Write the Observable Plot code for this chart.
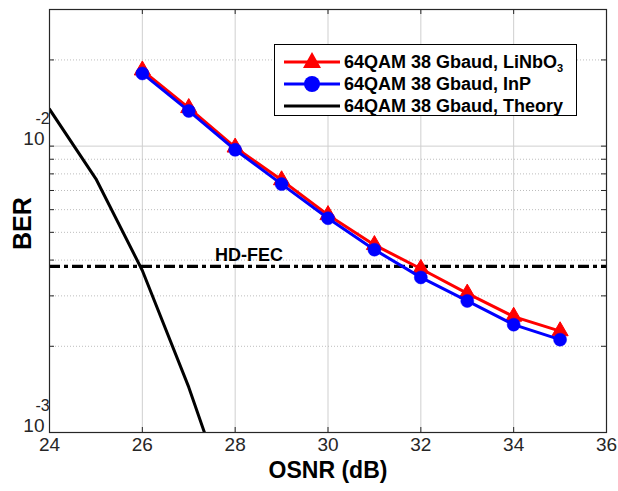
<!DOCTYPE html>
<html>
<head>
<meta charset="utf-8">
<script src="https://cdn.jsdelivr.net/npm/d3@7"></script>
<script src="https://cdn.jsdelivr.net/npm/@observablehq/plot@0.6"></script>
<style>
  body { margin: 0; background: #fff; font-family: Arial, "Liberation Sans", sans-serif; }
  #wrap { position: relative; width: 618px; height: 491px; }
  #legend { position: absolute; left: 274px; top: 44px; width: 301px; height: 70px;
    border: 1.2px solid #000; background: #fff; font-weight: bold; font-size: 18px; color: #000; }
  .row { position: absolute; left: 0; height: 22px; display: flex; align-items: center; white-space: nowrap; }
  .row svg { margin-left: 9px; margin-right: 4px; }
  sub { font-size: 11px; vertical-align: -4px; line-height: 0; }
</style>
</head>
<body>
<div id="wrap"></div>
<script>
const xTicks = [24, 26, 28, 30, 32, 34, 36];
const xGrid = [26, 28, 30, 32, 34];
const yMajor = [1e-3, 1e-2];
const yExp = ["-3", "-2"];
const yMinor = [2e-3, 3e-3, 4e-3, 5e-3, 6e-3, 7e-3, 8e-3, 9e-3, 2e-2, 3e-2];
const osnr = [26, 27, 28, 29, 30, 31, 32, 33, 34, 35];
const berLiNbO3 = [0.0184, 0.0136, 0.0099, 0.00761, 0.00575, 0.00452, 0.00373, 0.00306, 0.00254, 0.00226];
const berInP = [0.01794, 0.01327, 0.00971, 0.00737, 0.0056, 0.00435, 0.00348, 0.00288, 0.00238, 0.00211];
const osnrTheory = [24, 25, 26, 27, 28];
const berTheory = [0.01346, 0.00769, 0.00368, 0.00144, 0.00049];
const hdFec = 3.8e-3;
const hdFecLabel = "HD-FEC";
const hdFecLabelX = 28.3;
const seriesNames = ["64QAM 38 Gbaud, LiNbO", "64QAM 38 Gbaud, InP", "64QAM 38 Gbaud, Theory"];

const red = osnr.map((x, i) => ({x, y: berLiNbO3[i]}));
const blue = osnr.map((x, i) => ({x, y: berInP[i]}));
const theory = osnrTheory.map((x, i) => ({x, y: berTheory[i]}));
const majors = yMajor.map((v, i) => ({v, e: yExp[i]}));

const W = 618, H = 491, ML = 49, MR = 12, MT = 9, MB = 59;
const pw = W - ML - MR, ph = H - MT - MB;

const chart = Plot.plot({
  width: W, height: H,
  marginLeft: ML, marginRight: MR, marginTop: MT, marginBottom: MB,
  style: {fontFamily: 'Arial, "Liberation Sans", sans-serif', background: "#fff", overflow: "visible"},
  x: {domain: [24, 36], axis: null},
  y: {type: "log", domain: [1e-3, 3e-2], axis: null},
  marks: [
    Plot.ruleX(xGrid, {stroke: "#cfcfcf", strokeWidth: 1}),
    Plot.ruleY(yMinor, {stroke: "#bdbdbd", strokeWidth: 1, strokeDasharray: "1,2"}),
    Plot.ruleY([1e-2], {stroke: "#cfcfcf", strokeWidth: 1}),
    // inward ticks
    Plot.tickX(xTicks, {x: d => d, insetTop: ph - 5, stroke: "#262626"}),
    Plot.tickX(xTicks, {x: d => d, insetBottom: ph - 5, stroke: "#262626"}),
    Plot.tickY(yMajor.concat(yMinor), {y: d => d, insetRight: pw - 5, stroke: "#262626"}),
    Plot.tickY(yMajor.concat(yMinor), {y: d => d, insetLeft: pw - 5, stroke: "#262626"}),
    // HD-FEC
    Plot.ruleY([hdFec], {stroke: "#000", strokeWidth: 3.2, strokeDasharray: "11,4,4,4"}),
    Plot.text([hdFecLabel], {x: hdFecLabelX, y: hdFec, text: d => d, dy: -11, fontSize: 18, fontWeight: "bold", fill: "#000"}),
    // series
    Plot.line(red, {x: "x", y: "y", stroke: "#ff0000", strokeWidth: 3}),
    Plot.dot(red, {x: "x", y: "y", symbol: "triangle", r: 6, fill: "#ff0000", stroke: "#ff0000", strokeWidth: 1}),
    Plot.line(blue, {x: "x", y: "y", stroke: "#0000ff", strokeWidth: 3}),
    Plot.dot(blue, {x: "x", y: "y", symbol: "circle", r: 6.5, fill: "#0000ff", stroke: "#0000ff", strokeWidth: 0.5}),
    Plot.line(theory, {x: "x", y: "y", stroke: "#000", strokeWidth: 3, clip: true}),
    Plot.frame({stroke: "#262626", strokeWidth: 1.2}),
    // tick labels
    Plot.text(xTicks, {x: d => d, frameAnchor: "bottom", lineAnchor: "top", dy: 5, text: d => String(d), fontSize: 19, fill: "#262626"}),
    Plot.text(majors, {y: "v", frameAnchor: "left", textAnchor: "end", dx: -5, dy: -7, text: () => "10", fontSize: 19, fill: "#262626"}),
    Plot.text(majors, {y: "v", frameAnchor: "left", textAnchor: "start", dx: -14, dy: -27, text: "e", fontSize: 16, fill: "#262626"}),
    // axis titles
    Plot.text(["OSNR (dB)"], {frameAnchor: "bottom", dy: 45, text: d => d, fontSize: 23, fontWeight: "bold", fill: "#000"}),
    Plot.text(["BER"], {frameAnchor: "left", dx: -27, dy: 29, rotate: -90, text: d => d, fontSize: 25, fontWeight: "bold", fill: "#000"})
  ]
});

const wrap = document.getElementById("wrap");
wrap.appendChild(chart);

const legend = document.createElement("div");
legend.id = "legend";
const rows = [
  {top: 6, color: "#ff0000", sym: "tri", label: seriesNames[0], sub: "3"},
  {top: 28, color: "#0000ff", sym: "circ", label: seriesNames[1]},
  {top: 50, color: "#000000", sym: null, label: seriesNames[2]}
];
for (const r of rows) {
  const row = document.createElement("div");
  row.className = "row";
  row.style.top = r.top + "px";
  let symSvg = "";
  if (r.sym === "tri") symSvg = `<polygon points="28,1 37,17 19,17" fill="${r.color}"/>`;
  if (r.sym === "circ") symSvg = `<circle cx="28" cy="11" r="8" fill="${r.color}"/>`;
  row.innerHTML = `<svg width="56" height="22"><line x1="0" y1="11" x2="56" y2="11" stroke="${r.color}" stroke-width="3.2"/>${symSvg}</svg><span>${r.label}${r.sub ? "<sub>" + r.sub + "</sub>" : ""}</span>`;
  legend.appendChild(row);
}
wrap.appendChild(legend);
</script>
</body>
</html>
